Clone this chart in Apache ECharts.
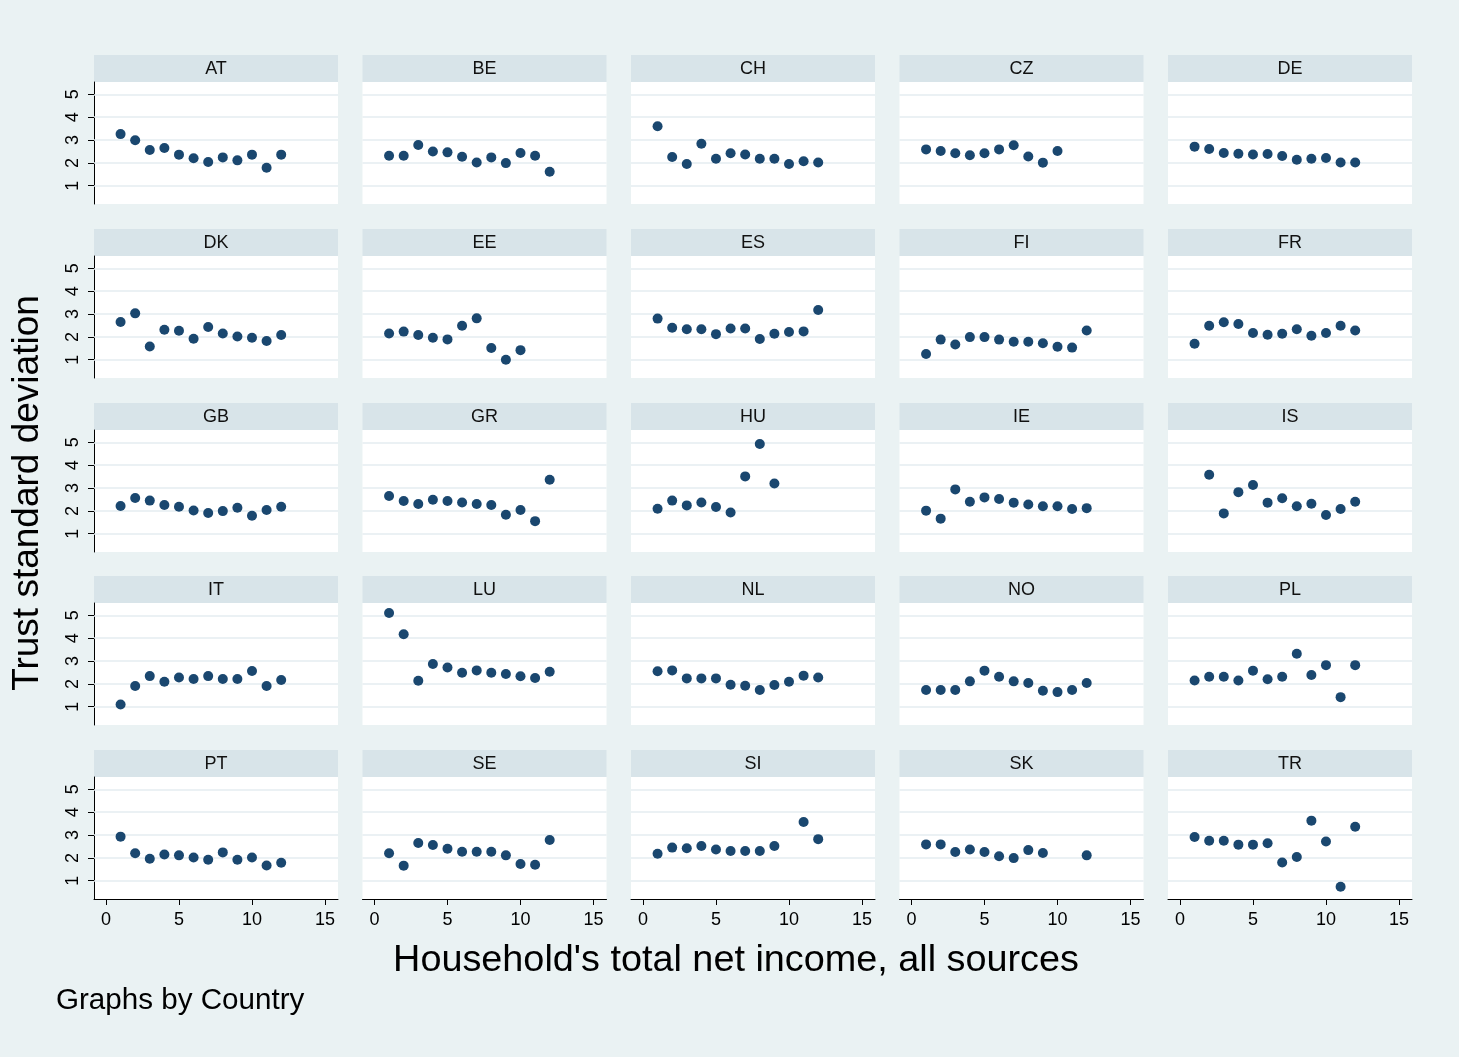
<!DOCTYPE html>
<html><head><meta charset="utf-8">
<script src="https://cdn.jsdelivr.net/npm/echarts@6/dist/echarts.min.js"></script>
<style>html,body{margin:0;padding:0;background:#EAF2F3}#c{width:1459px;height:1057px}</style>
</head><body><div id="c"></div>
<script>
// ---- data ----
const countries = ['AT','BE','CH','CZ','DE','DK','EE','ES','FI','FR','GB','GR','HU','IE','IS','IT','LU','NL','NO','PL','PT','SE','SI','SK','TR'];
const incomeLevels = [1,2,3,4,5,6,7,8,9,10,11,12];
const xTicks = [0,5,10,15];
const yTicks = [1,2,3,4,5];
const AT = [3.26,2.99,2.56,2.65,2.36,2.20,2.04,2.24,2.11,2.36,1.79,2.36];
const BE = [2.31,2.31,2.78,2.50,2.46,2.27,2.02,2.24,1.99,2.43,2.31,1.61];
const CH = [3.60,2.26,1.95,2.84,2.18,2.42,2.37,2.18,2.18,1.95,2.07,2.02];
const CZ = [2.59,2.52,2.42,2.33,2.42,2.59,2.77,2.28,2.01,2.52,null,null];
const DE = [2.71,2.61,2.43,2.40,2.37,2.39,2.30,2.14,2.18,2.21,2.02,2.02];
const DK = [2.65,3.03,1.58,2.31,2.27,1.92,2.43,2.15,2.02,1.96,1.82,2.08];
const EE = [2.15,2.23,2.08,1.96,1.89,2.49,2.81,1.51,1.00,1.42,null,null];
const ES = [2.80,2.40,2.33,2.33,2.12,2.37,2.37,1.91,2.14,2.21,2.24,3.18];
const FI = [1.25,1.88,1.67,1.99,1.99,1.88,1.79,1.79,1.72,1.57,1.53,2.28];
const FR = [1.70,2.49,2.64,2.56,2.17,2.09,2.14,2.33,2.05,2.17,2.49,2.28];
const GB = [2.21,2.56,2.45,2.26,2.18,2.02,1.91,1.99,2.14,1.79,2.04,2.18];
const GR = [2.65,2.43,2.30,2.49,2.43,2.37,2.30,2.26,1.83,2.04,1.55,3.36];
const HU = [2.09,2.45,2.24,2.37,2.17,1.93,3.51,4.93,3.20,null,null,null];
const IE = [2.01,1.66,2.94,2.40,2.59,2.52,2.36,2.28,2.20,2.20,2.08,2.12];
const IS = [null,3.58,1.89,2.82,3.13,2.36,2.55,2.20,2.31,1.82,2.08,2.40];
const IT = [1.10,1.91,2.34,2.09,2.28,2.21,2.34,2.21,2.21,2.56,1.91,2.17];
const LU = [5.10,4.17,2.14,2.87,2.72,2.49,2.59,2.49,2.43,2.33,2.26,2.53];
const NL = [2.55,2.59,2.24,2.24,2.24,1.96,1.92,1.73,1.95,2.09,2.36,2.28];
const NO = [1.73,1.73,1.73,2.11,2.58,2.31,2.11,2.04,1.70,1.64,1.73,2.04];
const PL = [2.15,2.31,2.31,2.15,2.58,2.20,2.31,3.32,2.39,2.82,1.42,2.82];
const PT = [2.93,2.20,1.96,2.15,2.11,2.02,1.92,2.24,1.92,2.02,1.67,1.79];
const SE = [2.20,1.66,2.65,2.56,2.40,2.27,2.27,2.27,2.11,1.73,1.70,2.78];
const SI = [2.18,2.45,2.42,2.52,2.37,2.30,2.30,2.30,2.52,null,3.57,2.82];
const SK = [2.59,2.59,2.26,2.37,2.26,2.07,1.99,2.34,2.21,null,null,2.11];
const TR = [2.91,2.75,2.75,2.58,2.58,2.64,1.80,2.04,3.63,2.72,0.74,3.36];
const values = {AT,BE,CH,CZ,DE,DK,EE,ES,FI,FR,GB,GR,HU,IE,IS,IT,LU,NL,NO,PL,PT,SE,SI,SK,TR};

// ---- layout ----
const FONT = '"Liberation Sans", Arial, Helvetica, sans-serif';
const L0 = 94, CW = 268.5, PW = 244, T0 = 82, RH = 173.8, PH = 122, HH = 27;
const grids = [], xAxes = [], yAxes = [], series = [], graphics = [];

countries.forEach((c, i) => {
  const r = Math.floor(i / 5), col = i % 5;
  const left = L0 + col * CW, top = Math.round(T0 + r * RH);
  grids.push({left: left, top: top, width: PW, height: PH, show: true, backgroundColor: '#FFFFFF', borderWidth: 0});
  graphics.push({type: 'rect', silent: true, shape: {x: left, y: top - HH, width: PW, height: HH}, style: {fill: '#D8E4E9'}});
  graphics.push({type: 'text', silent: true, x: left + PW / 2, y: top - HH / 2 + 1,
    style: {text: c, font: '18px ' + FONT, fill: '#111', align: 'center', verticalAlign: 'middle'}});
  const bottomRow = r === 4, firstCol = col === 0;
  xAxes.push({gridIndex: i, type: 'value', min: -0.82, max: 15.89, position: 'bottom',
    axisLine: {show: bottomRow, onZero: false, lineStyle: {color: '#000', width: 1}},
    axisTick: {show: bottomRow, length: 6, customValues: xTicks, lineStyle: {color: '#000', width: 1}},
    axisLabel: {show: bottomRow, customValues: xTicks, fontSize: 18, fontFamily: FONT, color: '#000', margin: 12},
    splitLine: {show: false}});
  yAxes.push({gridIndex: i, type: 'value', min: 0.2, max: 5.54, position: 'left',
    axisLine: {show: firstCol, onZero: false, lineStyle: {color: '#000', width: 1}},
    axisTick: {show: firstCol, length: 6, customValues: yTicks, lineStyle: {color: '#000', width: 1}},
    axisLabel: {show: firstCol, customValues: yTicks, rotate: 90, fontSize: 18, fontFamily: FONT, color: '#000', margin: 12},
    splitLine: {show: false}});
  const data = [];
  values[c].forEach((v, k) => { if (v !== null) data.push([incomeLevels[k], v]); });
  series.push({type: 'scatter', xAxisIndex: i, yAxisIndex: i, data: data, symbol: 'circle', symbolSize: 10,
    itemStyle: {color: '#1A476F', opacity: 1}, silent: true, z: 3,
    markLine: {silent: true, symbol: 'none', z: 1, animation: false, label: {show: false},
      lineStyle: {color: '#E4EDF0', width: 1.5, type: 'solid', opacity: 1},
      data: yTicks.map(v => ({yAxis: v}))}});
});

graphics.push({type: 'text', silent: true, x: 28, y: 493, rotation: Math.PI / 2,
  style: {text: 'Trust standard deviation', font: '37px ' + FONT, fill: '#000', align: 'center', verticalAlign: 'middle'}});
graphics.push({type: 'text', silent: true, x: 736, y: 961,
  style: {text: "Household's total net income, all sources", font: '37.8px ' + FONT, fill: '#000', align: 'center', verticalAlign: 'middle'}});
graphics.push({type: 'text', silent: true, x: 56, y: 1001,
  style: {text: 'Graphs by Country', font: '29.6px ' + FONT, fill: '#000', align: 'left', verticalAlign: 'middle'}});

const chart = echarts.init(document.getElementById('c'));
chart.setOption({
  backgroundColor: '#EAF2F3',
  animation: false,
  grid: grids, xAxis: xAxes, yAxis: yAxes, series: series,
  graphic: {elements: graphics}
});
</script></body></html>
